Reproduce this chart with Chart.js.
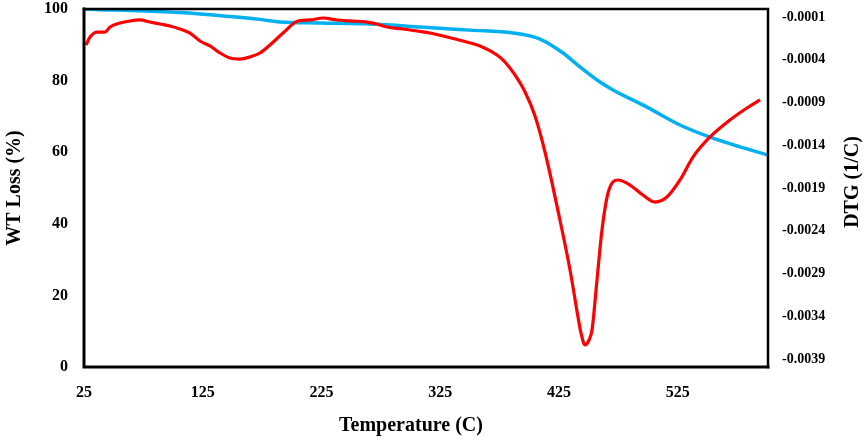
<!DOCTYPE html>
<html>
<head>
<meta charset="utf-8">
<script src="https://cdn.jsdelivr.net/npm/chart.js@4"></script>
<style>
html,body{margin:0;padding:0;background:#fff;}
#wrap{width:865px;height:442px;}
</style>
</head>
<body>
<div id="wrap"><canvas id="c" width="865" height="442"></canvas></div>
<script>
// ---- data ----
const X_TICKS = [25, 125, 225, 325, 425, 525];
const Y_TICKS = [0, 20, 40, 60, 80, 100];
const DTG_TICK_VALUES = [-0.0039, -0.003425, -0.00295, -0.002475, -0.002, -0.001525, -0.00105, -0.000575, -0.0001];
const DTG_TICK_LABELS = ["-0.0039", "-0.0034", "-0.0029", "-0.0024", "-0.0019", "-0.0014", "-0.0009", "-0.0004", "-0.0001"];

// TG curve (WT Loss %)
const TG_TEMP = [25, 38.5, 63.7, 105.8, 148, 173.2, 190, 223.7, 265.8, 308, 350, 386.3, 409, 428.4, 442.7, 459.5, 470.5, 499.1, 526.9, 552.2, 577.4, 601];
const TG_WT   = [100, 99.8, 99.6, 99.0, 97.9, 97.1, 96.4, 96.1, 95.8, 95.0, 94.1, 93.3, 91.6, 87.7, 83.8, 79.6, 77.4, 72.6, 67.6, 64.2, 61.5, 59.2];

// DTG curve (1/C)
const DTG_TEMP = [26.7, 30.1, 36, 42.7, 46.9, 55.3, 63.7, 72.2, 80.6, 89, 97.4, 105.8, 114.3, 122.7, 131.1, 139.5, 148, 156.4, 164.8, 173.2, 181.6, 192.6, 205.2, 215.3, 226.3, 238, 249, 263.3, 271.7, 280.2, 293.6, 305.4, 316.4, 330.7, 344.2, 358.5, 372.8, 379.5, 387.9, 396.4, 404.8, 413.2, 425.8, 434.3, 441, 443.5, 446.9, 450.3, 452.8, 457, 461.2, 466.3, 474.7, 484.8, 495.7, 505.8, 515.9, 526.9, 537.8, 552.2, 569, 583.3, 594.3];
const DTG_VAL  = [-0.000411, -0.000322, -0.000267, -0.000267, -0.000211, -0.000167, -0.000144, -0.000133, -0.000156, -0.000178, -0.0002, -0.000233, -0.000278, -0.000367, -0.000422, -0.0005, -0.000556, -0.000567, -0.000544, -0.0005, -0.000411, -0.000278, -0.000144, -0.000133, -0.000111, -0.000133, -0.000144, -0.000156, -0.000178, -0.000211, -0.000233, -0.000256, -0.000278, -0.000322, -0.000367, -0.000422, -0.000522, -0.0006, -0.000744, -0.000933, -0.0012, -0.0016, -0.002356, -0.002911, -0.003433, -0.003611, -0.003744, -0.003689, -0.003578, -0.003022, -0.002467, -0.002056, -0.001911, -0.001967, -0.002078, -0.002156, -0.0021, -0.001911, -0.001656, -0.001433, -0.001244, -0.001111, -0.001022];

const zip = (xs, ys) => xs.map((x, i) => ({x: x, y: ys[i]}));

const FONT = "'Liberation Serif', 'Times New Roman', serif";

const frame = {
  id: 'frame',
  afterDatasetsDraw(chart) {
    const {ctx, chartArea: a} = chart;
    ctx.save();
    ctx.strokeStyle = '#000';
    ctx.lineCap = 'square';
    ctx.lineWidth = 3;
    ctx.beginPath();
    ctx.moveTo(a.left, a.top); ctx.lineTo(a.left, a.bottom); ctx.lineTo(a.right, a.bottom);
    ctx.stroke();
    ctx.lineWidth = 2.5;
    ctx.beginPath();
    ctx.moveTo(a.left, a.top); ctx.lineTo(a.right, a.top); ctx.lineTo(a.right, a.bottom);
    ctx.stroke();
    ctx.restore();
  },
  afterDraw(chart) {
    const {ctx} = chart;
    ctx.save();
    ctx.font = 'bold 20px ' + FONT;
    ctx.fillStyle = '#000';
    ctx.textAlign = 'center';
    ctx.textBaseline = 'middle';
    // x-axis title
    ctx.fillText('Temperature (C)', 411, 426);
    // right axis title (reads bottom to top)
    ctx.translate(853, 182);
    ctx.rotate(-Math.PI / 2);
    ctx.fillText('DTG (1/C)', 0, 0);
    ctx.restore();
  }
};

new Chart(document.getElementById('c'), {
  type: 'line',
  data: {
    datasets: [
      {
        label: 'DTG',
        data: zip(DTG_TEMP, DTG_VAL),
        yAxisID: 'y1',
        borderColor: '#FF0000',
        borderWidth: 3.2,
        pointRadius: 0,
        cubicInterpolationMode: 'monotone',
        fill: false
      },
      {
        label: 'TG',
        data: zip(TG_TEMP, TG_WT),
        yAxisID: 'y',
        borderColor: '#00B0F0',
        borderWidth: 3.5,
        pointRadius: 0,
        cubicInterpolationMode: 'monotone',
        fill: false
      }
    ]
  },
  options: {
    responsive: false,
    animation: false,
    devicePixelRatio: 1,
    layout: {padding: {top: 9, left: 0, right: 0, bottom: 0}},
    plugins: {legend: {display: false}, tooltip: {enabled: false}},
    scales: {
      x: {
        type: 'linear',
        min: 25,
        max: 601,
        grid: {display: false, drawTicks: false},
        border: {display: false},
        afterBuildTicks: s => { s.ticks = X_TICKS.map(v => ({value: v})); },
        afterFit: s => { s.height = 75; s.paddingLeft = 0; s.paddingRight = 0; },
        ticks: {
          color: '#000',
          padding: 16,
          maxRotation: 0,
          autoSkip: false,
          font: {family: FONT, size: 16, weight: 'bold'},
          callback: v => String(v)
        },
        title: {display: false, text: 'Temperature (C)'}
      },
      y: {
        type: 'linear',
        position: 'left',
        min: 0,
        max: 100,
        grid: {display: false, drawTicks: false},
        border: {display: false},
        afterBuildTicks: s => { s.ticks = Y_TICKS.map(v => ({value: v})); },
        afterFit: s => { s.width = 84; s.paddingTop = 0; s.paddingBottom = 0; },
        ticks: {
          color: '#000',
          padding: 16,
          font: {family: FONT, size: 16, weight: 'bold'}
        },
        title: {
          display: true,
          text: 'WT Loss (%)',
          color: '#000',
          font: {family: FONT, size: 20, weight: 'bold'},
          padding: {top: 3, bottom: 0}
        }
      },
      y1: {
        type: 'linear',
        position: 'right',
        min: -0.0039889,
        max: -0.0000111,
        grid: {display: false, drawTicks: false},
        border: {display: false},
        afterBuildTicks: s => { s.ticks = DTG_TICK_VALUES.map(v => ({value: v})); },
        afterFit: s => { s.width = 97; s.paddingTop = 0; s.paddingBottom = 0; },
        ticks: {
          color: '#000',
          padding: 14,
          font: {family: FONT, size: 14, weight: 'bold'},
          callback: (v, i) => DTG_TICK_LABELS[i]
        },
        title: {display: false, text: 'DTG (1/C)'}
      }
    }
  },
  plugins: [frame]
});
</script>
</body>
</html>
